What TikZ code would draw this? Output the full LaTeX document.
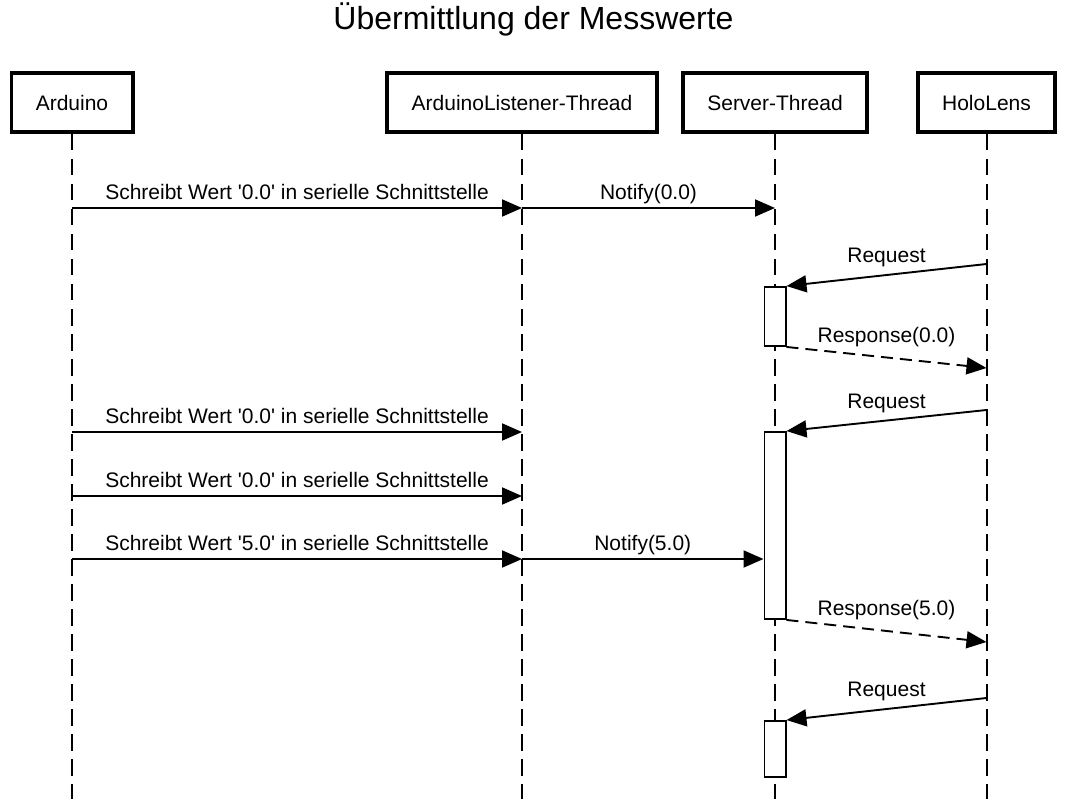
\documentclass[tikz,border=0pt]{standalone}
\usepackage{fontspec}
\setmainfont{Liberation Sans}
\usepackage{xcolor}
\usetikzlibrary{arrows.meta}

\begin{document}
\begin{tikzpicture}[x=1pt,y=-1pt,font=\fontsize{21}{25}\selectfont,
	actor/.style={draw, line width=3.6pt, minimum height=59.4pt, inner sep=0pt},
	life/.style={line width=2pt, dash pattern=on 16.5pt off 8.5pt},
	msg/.style={line width=1.9pt, -{Triangle[length=20pt,width=17pt]}},
	reply/.style={msg, dash pattern=on 12pt off 7pt},
	act/.style={draw, fill=white, line width=1.9pt, minimum width=21.1pt, inner sep=0pt},
	lbl/.style={inner sep=2pt, text height=0.72em, text depth=0.21em}]
	\useasboundingbox (0,0) rectangle (1067,799);
	\coordinate (bottom) at (0,799);
	\node[font=\fontsize{32}{38}\selectfont, anchor=base] (title) at (533.5,30) {Übermittlung der Messwerte};
	\node[actor, minimum width=121.4pt] (ard) at (72,102.5) {Arduino};
	\node[actor, minimum width=270.4pt] (lst) at (522,102.5) {ArduinoListener-Thread};
	\node[actor, minimum width=184.4pt] (srv) at (775,102.5) {Server-Thread};
	\node[actor, minimum width=137.4pt] (holo) at (986.5,102.5) {HoloLens};
	\foreach \n in {ard,lst,srv,holo}
		\draw[life] (\n.south) -- (\n.south |- bottom);
	\node[act, minimum height=59pt] (act1) at (775,316.5) {};
	\node[act, minimum height=187pt] (act2) at (775,525.5) {};
	\node[act, minimum height=56pt] (act3) at (775,749) {};
	\foreach \y/\w [count=\i] in {208/0.0, 432/0.0, 496/0.0, 559/5.0}{
		\coordinate (a\i) at (ard |- 0,\y);
		\coordinate (l\i) at (lst |- 0,\y);
		\draw[msg] (a\i) -- node[lbl, above=3pt]{Schreibt Wert \textquotesingle\w\textquotesingle{} in serielle Schnittstelle} (l\i);
	}
	\coordinate (s1) at (srv |- l1);
	\draw[msg] (l1) -- node[lbl, above=3pt]{Notify(0.0)} (s1);
	\draw[msg] (l4) -- node[lbl, above=3pt]{Notify(5.0)} (act2.west |- l4);
	\coordinate (h1) at (holo |- 0,264);
	\coordinate (h2) at (holo |- 0,368);
	\coordinate (h3) at (holo |- 0,410);
	\coordinate (h4) at (holo |- 0,642);
	\coordinate (h5) at (holo |- 0,698);
	\draw[msg] (h1) -- node[lbl, above=7pt]{Request} (act1.north east);
	\draw[reply] (act1.south east) -- node[lbl, above=10pt]{Response(0.0)} (h2);
	\draw[msg] (h3) -- node[lbl, above=7pt]{Request} (act2.north east);
	\draw[reply] (act2.south east) -- node[lbl, above=10pt]{Response(5.0)} (h4);
	\draw[msg] (h5) -- node[lbl, above=7pt]{Request} (act3.north east);
\end{tikzpicture}
\end{document}
